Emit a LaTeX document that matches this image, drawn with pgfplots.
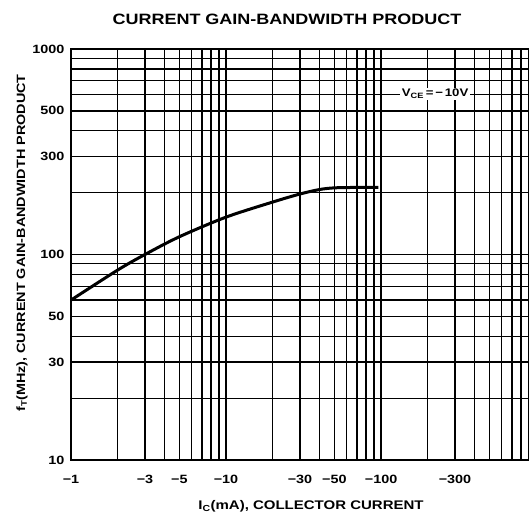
\documentclass[border=0pt]{standalone}
\usepackage{pgfplots}
\pgfplotsset{compat=1.18}
\usepackage{fontspec}
\setmainfont{Liberation Sans}[FakeStretch=1.2]
\begin{document}
\begin{tikzpicture}[x=1pt,y=1pt]
\useasboundingbox (-71,-58) rectangle (458,460);
\begin{axis}[
  at={(0,0)}, anchor=south west, scale only axis,
  width=458pt, height=411pt,
  xmode=log, ymode=log,
  xmin=1, xmax=900, ymin=10, ymax=1000,
  grid=both,
  major grid style={black, line width=1.5pt},
  minor grid style={black, line width=1.2pt},
  axis line style={black, line width=2.2pt},
  tick style={draw=none},
  xtick={1,3,5,10,30,50,100,300},
  xticklabels={−1,−3,−5,−10,−30,−50,−100,−300},
  minor xtick={2,4,6,7,8,9,20,40,60,70,80,90,200,400,500,600,700,800},
  ytick={10,30,50,100,300,500,1000},
  yticklabels={10,30,50,100,300,500,1000},
  minor ytick={20,40,60,70,80,90,200,400,600,700,800,900},
  ticklabel style={font=\fontsize{12}{14}\selectfont\bfseries},
  xticklabel style={yshift=-12pt},
  yticklabel style={xshift=-3pt},
  clip=true,
]
\addplot[black, line width=3pt, smooth, tension=0.5] coordinates {
  (1,60) (2,84) (3,100) (5,122) (10,152) (20,180) (30,197) (40,207) (50,211) (70,212) (96,212)
};
\node[fill=white, inner sep=1.5pt, font=\fontsize{11}{13}\selectfont\bfseries] at (axis cs:223,604) {V\textsubscript{CE}\,=\,−\,10V};
\end{axis}
\node[font=\fontsize{15}{18}\selectfont\bfseries] at (216,441) {CURRENT GAIN-BANDWIDTH PRODUCT};
\node[font=\fontsize{12.5}{15}\selectfont\bfseries] at (240,-46) {I\textsubscript{C}(mA), COLLECTOR CURRENT};
\node[rotate=90, font=\fontsize{12}{14}\selectfont\bfseries] at (-49,217) {f\textsubscript{T}(MHz), CURRENT GAIN-BANDWIDTH PRODUCT};
\end{tikzpicture}
\end{document}
